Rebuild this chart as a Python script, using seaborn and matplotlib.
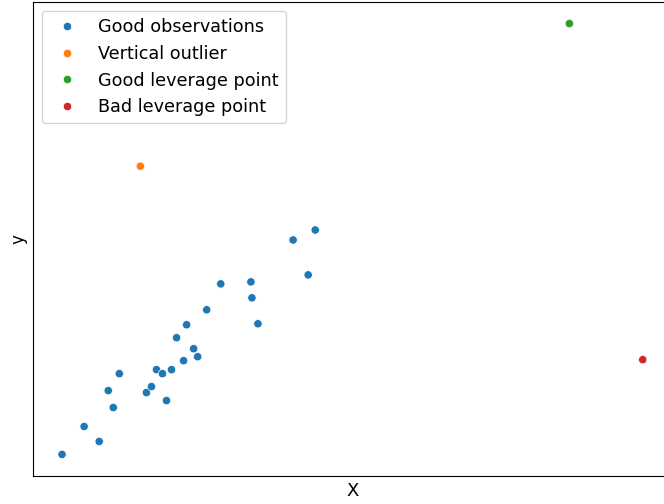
import pandas as pd
import matplotlib.pyplot as plt
import seaborn as sns

# good observations
good_x = [63, 85, 100, 109, 114, 120, 147, 152, 157, 163, 167, 172, 177, 184,
          187, 194, 198, 207, 221, 251, 252, 258, 293, 308, 315]
good_y = [46, 74, 59, 110, 93, 127, 108, 114, 131, 127, 100, 131, 163, 140,
          176, 152, 144, 191, 217, 219, 203, 177, 261, 226, 271]
# the three special points
outlier_x, outlier_y = [141], [335]
good_lev_x, good_lev_y = [568], [478]
bad_lev_x, bad_lev_y = [641], [141]

labels = ['Good observations', 'Vertical outlier', 'Good leverage point', 'Bad leverage point']

df = pd.DataFrame({
    'X': good_x + outlier_x + good_lev_x + bad_lev_x,
    'y': good_y + outlier_y + good_lev_y + bad_lev_y,
    'kind': [labels[0]] * len(good_x) + [labels[1]] + [labels[2]] + [labels[3]],
})

fig = plt.figure(figsize=(6.64, 5.04), dpi=100)
ax = fig.add_axes([0.0497, 0.0556, 0.962, 0.9404])
sns.scatterplot(data=df, x='X', y='y', hue='kind', hue_order=labels, ax=ax)
ax.set_xticks([])
ax.set_yticks([])
ax.set_xlabel('X', fontsize=13)
ax.set_ylabel('y', fontsize=12)
ax.legend(loc='upper left', fontsize=12.7, title=None)
fig.savefig('out.png', dpi=100)
